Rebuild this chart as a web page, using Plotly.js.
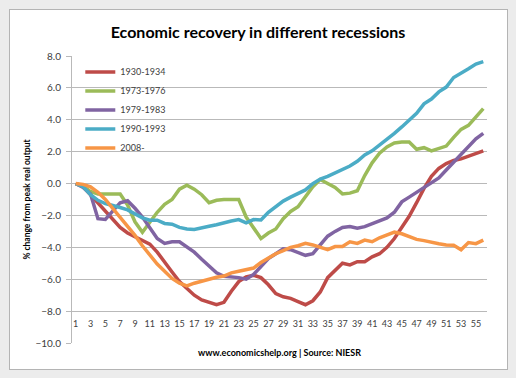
<!DOCTYPE html>
<html>
<head>
<meta charset="utf-8">
<script src="https://cdn.plot.ly/plotly-3.0.1.min.js"></script>
<style>
  html, body { margin:0; padding:0; background:#ececec; }
  #frame { position:absolute; left:9px; top:9px; width:497px; height:359px; background:#ffffff; border:1px solid #b4b4b4; }
  #chart { position:absolute; left:0; top:0; width:516px; height:378px; }
</style>
</head>
<body>
<div id="frame"></div>
<div id="chart"></div>
<script>
const periods = Array.from({length:56}, (_, i) => i + 1);
const tickVals = [1,3,5,7,9,11,13,15,17,19,21,23,25,27,29,31,33,35,37,39,41,43,45,47,49,51,53,55];
const tickText = tickVals.map(String);

const s1930 = [0,-0.2,-0.7,-1.2,-1.75,-2.25,-2.75,-3.1,-3.35,-3.55,-3.8,-4.3,-4.95,-5.55,-6.15,-6.6,-7.0,-7.3,-7.45,-7.6,-7.45,-6.75,-6.15,-5.85,-5.75,-5.9,-6.35,-6.9,-7.1,-7.2,-7.4,-7.6,-7.35,-6.8,-5.9,-5.45,-5.0,-5.1,-4.9,-4.9,-4.6,-4.4,-4.0,-3.45,-2.75,-2.05,-1.2,-0.3,0.45,0.95,1.25,1.45,1.55,1.7,1.85,2.05];
const s1973 = [0,-0.15,-0.5,-0.65,-0.65,-0.65,-0.65,-1.35,-2.4,-3.05,-2.45,-1.8,-1.3,-1.0,-0.35,-0.1,-0.35,-0.7,-1.2,-1.05,-1.0,-1.0,-1.0,-2.1,-2.75,-3.45,-3.1,-2.85,-2.2,-1.75,-1.45,-0.8,-0.2,0.25,0.0,-0.25,-0.65,-0.6,-0.45,0.5,1.3,1.9,2.3,2.55,2.6,2.6,2.15,2.25,2.05,2.2,2.35,2.9,3.4,3.65,4.15,4.7];
const s1979 = [0,-0.25,-0.65,-2.2,-2.25,-1.75,-1.2,-1.08,-1.55,-2.1,-2.8,-3.45,-3.75,-3.65,-3.65,-3.95,-4.3,-4.75,-5.2,-5.6,-5.82,-5.85,-5.9,-6.0,-5.7,-5.2,-4.7,-4.4,-4.1,-4.15,-4.35,-4.5,-4.4,-3.85,-3.3,-3.0,-2.75,-2.7,-2.8,-2.7,-2.5,-2.35,-2.15,-1.8,-1.15,-0.85,-0.55,-0.28,0.05,0.35,0.85,1.35,1.85,2.35,2.8,3.15];
const s1990 = [0,-0.2,-0.7,-1.05,-1.25,-1.35,-1.5,-1.65,-1.9,-2.15,-2.3,-2.3,-2.5,-2.55,-2.75,-2.85,-2.88,-2.8,-2.68,-2.58,-2.45,-2.35,-2.26,-2.47,-2.26,-2.28,-1.8,-1.45,-1.1,-0.85,-0.65,-0.4,0.0,0.28,0.45,0.65,0.85,1.1,1.4,1.8,2.05,2.4,2.75,3.15,3.55,3.95,4.4,5.0,5.3,5.75,6.05,6.65,6.9,7.2,7.5,7.65];
const s2008 = [0,-0.05,-0.2,-0.55,-1.0,-1.55,-2.15,-2.65,-3.25,-3.9,-4.5,-5.05,-5.5,-5.95,-6.25,-6.42,-6.25,-6.12,-6.02,-5.88,-5.8,-5.6,-5.5,-5.42,-5.3,-4.95,-4.65,-4.4,-4.2,-4.0,-3.9,-3.75,-3.85,-4.0,-4.15,-3.95,-3.95,-3.65,-3.75,-3.55,-3.65,-3.4,-3.25,-3.05,-3.15,-3.35,-3.5,-3.58,-3.7,-3.78,-3.85,-3.87,-4.15,-3.7,-3.77,-3.55];

const seriesNames = ['1930-1934','1973-1976','1979-1983','1990-1993','2008-'];
const seriesData = [s1930, s1973, s1979, s1990, s2008];
const seriesColors = ['#be4b48','#9bbb59','#8064a2','#4bacc6','#f79646'];

const FONT = 'Lato, "Open Sans", sans-serif';

const traces = seriesNames.map((name, k) => ({
  type: 'scatter', mode: 'lines', name: name,
  x: periods, y: seriesData[k],
  line: { color: seriesColors[k], width: 3.5 },
  hoverinfo: 'skip'
}));

const layout = {
  width: 516, height: 378, autosize: false,
  margin: { l: 72, r: 29, t: 56, b: 35, pad: 0 },
  paper_bgcolor: 'rgba(0,0,0,0)', plot_bgcolor: 'rgba(0,0,0,0)',
  font: { family: FONT, color: '#404040' },
  title: { text: '<b>Economic recovery in different recessions</b>', x: 0.5, xanchor: 'center', y: 0.915, yanchor: 'middle',
           font: { family: FONT, size: 16, color: '#000000' } },
  xaxis: {
    range: [0.5, 56.5], tickvals: tickVals, ticktext: tickText,
    showgrid: false, zeroline: false, showline: false, ticks: '',
    anchor: 'free', position: 0.09,
    tickfont: { family: FONT, size: 9, color: '#404040' }, tickangle: 0
  },
  yaxis: {
    range: [-10, 8], dtick: 2, tick0: 0, tickformat: '.1f',
    showgrid: true, gridcolor: '#b9b9b9', gridwidth: 1, zeroline: false,
    showline: true, linecolor: '#b9b9b9', linewidth: 1,
    ticks: 'outside', ticklen: 5, tickcolor: '#b9b9b9', ticklabelstandoff: 3,
    tickfont: { family: FONT, size: 10, color: '#404040' },
    title: { text: '<b>% change from peak real output</b>', standoff: 3, font: { family: FONT, size: 8.5, color: '#000000' } }
  },
  showlegend: true,
  legend: { x: 0.02, y: 0.995, xanchor: 'left', yanchor: 'top', bgcolor: 'rgba(0,0,0,0)',
            font: { family: FONT, size: 9, color: '#404040' }, tracegroupgap: 0 },
  annotations: [{
    text: '<b>www.economicshelp.org | Source: NIESR</b>', xref: 'paper', yref: 'paper',
    x: 0.5, y: -0.033, xanchor: 'center', yanchor: 'middle', showarrow: false,
    font: { family: FONT, size: 9, color: '#000000' }
  }]
};

Plotly.newPlot('chart', traces, layout, { displayModeBar: false, staticPlot: true });
</script>
</body>
</html>
